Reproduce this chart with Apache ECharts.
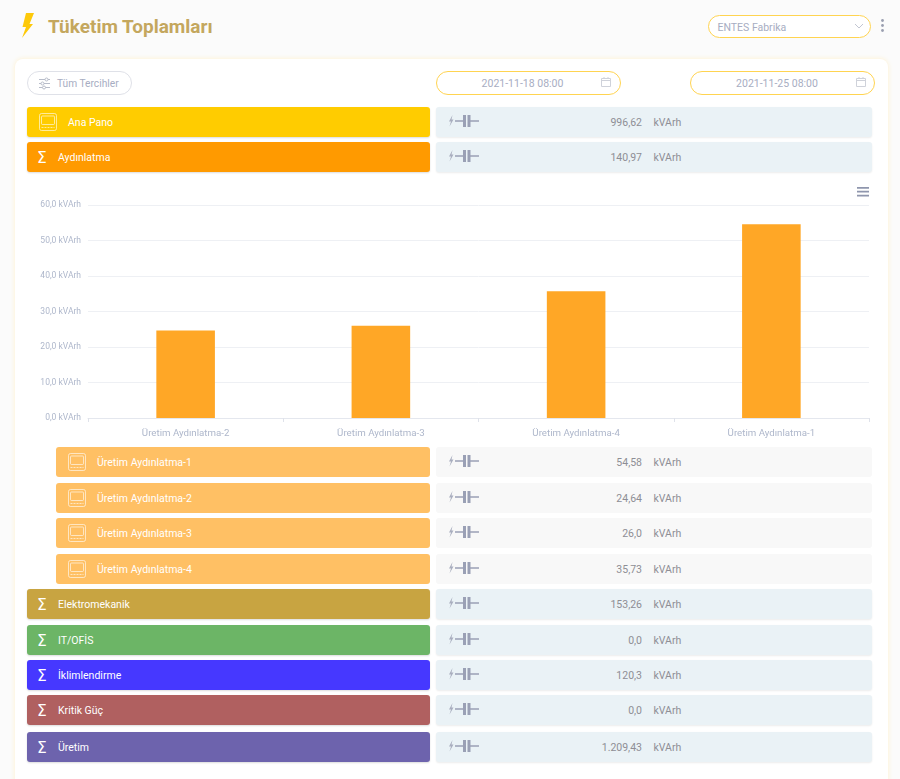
<!DOCTYPE html>
<html lang="tr">
<head>
<meta charset="utf-8">
<title>Tüketim Toplamları</title>
<script src="https://cdn.jsdelivr.net/npm/echarts@6/dist/echarts.min.js"></script>
<style>
html,body{margin:0;padding:0;width:900px;height:779px;overflow:hidden;background:#fbfbfb;font-family:Roboto,sans-serif}
.abs{position:absolute;box-sizing:border-box}
#title{left:48px;top:15px;font-size:19px;font-weight:700;color:#c4a75e;line-height:24px;white-space:nowrap}
#panel{left:15px;top:59px;width:873px;height:730px;background:#fff;border-radius:8px;box-shadow:0 0 5px #fff0cc}
.pill{border-radius:12px;font-size:10.5px;color:#a7adc2;line-height:22px;background:#fff;white-space:nowrap}
.yl{border:1.5px solid #ffd451}
.lab{border-radius:3px;color:#fff;font-size:10.5px;box-shadow:0 1px 2px rgba(0,0,0,.14);height:30px;line-height:31px;white-space:nowrap}
.box{border-radius:3px;left:435.5px;width:436.5px;height:30px;box-shadow:0 1px 2px rgba(0,0,0,.08)}
.val{width:140px;left:502px;text-align:right;font-size:10.5px;color:#8e8e95;line-height:31px;height:30px}
.unit{left:653.5px;font-size:10.5px;color:#8e8e95;line-height:31px;height:30px}
#chart{left:15px;top:180px;width:873px;height:265px}
svg{display:block}
</style>
</head>
<body>
<svg class="abs" style="left:20px;top:12px" width="16" height="27" viewBox="0 0 16 27"><path d="M6 1H14L9.5 12H13L2 26L6 15H2.5Z" fill="#fdc90a"/></svg>
<div class="abs" id="title">Tüketim Toplamları</div>
<div class="abs pill yl" style="left:707.5px;top:15px;width:163px;height:23px;padding-left:9px;line-height:23px">ENTES Fabrika</div>
<svg class="abs" style="left:854px;top:23px" width="10" height="7"><path d="M1 1L5 5L9 1" fill="none" stroke="#c2c6d2"/></svg>
<svg class="abs" style="left:880px;top:18px" width="5" height="15"><circle cx="2.5" cy="2.5" r="1.4" fill="#9a9fb0"/><circle cx="2.5" cy="7.5" r="1.4" fill="#9a9fb0"/><circle cx="2.5" cy="12.5" r="1.4" fill="#9a9fb0"/></svg>
<div class="abs" id="panel"></div>
<div class="abs pill" style="left:27px;top:71px;width:104.5px;height:24px;border:1px solid #dfe1e8;padding-left:29px;line-height:23px;font-size:10.2px">Tüm Tercihler</div>
<svg class="abs" style="left:39px;top:77px" width="12" height="13"><path d="M0 2.5H11M0 6.5H11M0 10.5H11" stroke="#b8bdca"/><circle cx="7.5" cy="2.5" r="1.5" fill="#fff" stroke="#b8bdca"/><circle cx="3.5" cy="6.5" r="1.5" fill="#fff" stroke="#b8bdca"/><circle cx="5" cy="10.5" r="1.5" fill="#fff" stroke="#b8bdca"/></svg>
<div class="abs pill yl" style="left:435.5px;top:71px;width:185px;height:24px;text-align:center;padding-right:11px;line-height:23px">2021-11-18 08:00</div>
<div class="abs pill yl" style="left:690px;top:71px;width:185px;height:24px;text-align:center;padding-right:11px;line-height:23px">2021-11-25 08:00</div>
<svg class="abs" style="left:601px;top:77px" width="10" height="10"><path d="M.5 1.5H9.5V9.5H.5ZM.5 3.5H9.5M3 0V2M7 0V2" fill="none" stroke="#cfd2da"/></svg>
<svg class="abs" style="left:856px;top:77px" width="10" height="10"><path d="M.5 1.5H9.5V9.5H.5ZM.5 3.5H9.5M3 0V2M7 0V2" fill="none" stroke="#cfd2da"/></svg>
<div class="abs" id="chart"></div>
<div id="rows"></div>
<script>
var rowNames = ['Ana Pano','Aydınlatma','Üretim Aydınlatma-1','Üretim Aydınlatma-2','Üretim Aydınlatma-3','Üretim Aydınlatma-4','Elektromekanik','IT/OFİS','İklimlendirme','Kritik Güç','Üretim'];
var rowValues = [996.62,140.97,54.58,24.64,26.0,35.73,153.26,0.0,120.3,0.0,1209.43];
var rowColors = ['#ffcc00','#ff9a00','#ffc064','#ffc064','#ffc064','#ffc064','#c8a441','#6cb566','#4638ff','#b06060','#6d63ad'];
var rowTops = [107,142,447,483,518,554,589.4,625,660.4,695.4,732];
var rowKinds = ['panel','sum','sub','sub','sub','sub','sum','sum','sum','sum','sum'];
var unitLabel = 'kVArh';

var chartCategories = ['Üretim Aydınlatma-2','Üretim Aydınlatma-3','Üretim Aydınlatma-4','Üretim Aydınlatma-1'];
var chartValues = [24.64,26.0,35.73,54.58];

function fmt(v){
  var s = (Math.round(v*100)/100).toString().split('.');
  var i = s[0].replace(/\B(?=(\d{3})+$)/g,'.');
  return i + ',' + (s[1] || '0');
}
var meterIcon = '<svg width="18" height="18" viewBox="0 0 18 18"><rect x=".5" y=".5" width="17" height="17" rx="2" fill="none" stroke="rgba(255,255,255,.6)"/><rect x="2.5" y="3" width="13" height="8.5" rx="1" fill="none" stroke="rgba(255,255,255,.6)"/><path d="M2.5 14.5H15.5" stroke="rgba(255,255,255,.6)" stroke-dasharray="2 1"/></svg>';
var capIcon = '<svg width="31" height="12" viewBox="0 0 31 12"><path d="M4.5 0L1 6.5H3L1.5 11.5L5.5 4.5H3.5Z" fill="#a9aebf"/><path d="M7 6H15M22 6H31" stroke="#9aa0b5" stroke-width="1.3"/><rect x="15" y="0" width="3" height="12" fill="#9aa0b5"/><rect x="19.5" y="0" width="3" height="12" fill="#9aa0b5"/></svg>';
var h = '';
rowNames.forEach(function(name,i){
  var t = rowTops[i], k = rowKinds[i];
  var left = k === 'sub' ? 56 : 27;
  var textX = k === 'sub' ? 97 : (k === 'panel' ? 68 : 58);
  var shadow = k === 'sub' ? 'box-shadow:none;' : '';
  h += '<div class="abs lab" style="left:'+left+'px;top:'+t+'px;width:'+(430-left)+'px;background:'+rowColors[i]+';'+shadow+'padding-left:'+(textX-left)+'px">'+name+'</div>';
  if(k === 'sum'){
    h += '<div class="abs" style="left:37px;top:'+(t+1.6)+'px;color:#fff;font:15.5px/29px \'DejaVu Sans\',sans-serif;width:12px">Σ</div>';
  } else {
    h += '<div class="abs" style="left:'+(k==='sub'?68:39)+'px;top:'+(t+6)+'px">'+meterIcon+'</div>';
  }
  h += '<div class="abs box" style="top:'+t+'px;background:'+(k==='sub'?'#f8f8f8':'#eaf2f6')+';'+(k==='sub'?'box-shadow:none':'')+'"></div>';
  h += '<div class="abs" style="left:448px;top:'+(t+8)+'px">'+capIcon+'</div>';
  h += '<div class="abs val" style="top:'+t+'px">'+fmt(rowValues[i])+'</div>';
  h += '<div class="abs unit" style="top:'+t+'px">'+unitLabel+'</div>';
});
document.getElementById('rows').innerHTML = h;

var chart = echarts.init(document.getElementById('chart'));
chart.setOption({
  animation:false,
  textStyle:{fontFamily:'Roboto'},
  toolbox:{right:4,top:-8,itemSize:12,feature:{myMenu:{show:true,title:'',icon:'path://M0 0H14V2H0ZM0 4.5H14V6.5H0ZM0 9H14V11H0Z',iconStyle:{color:'#8f96ad',borderWidth:0},onclick:function(){}}}},
  grid:{left:73,right:19,top:25,height:213},
  xAxis:{type:'category',data:chartCategories,
    axisLine:{lineStyle:{color:'#e4e7ee',width:1}},
    axisTick:{show:true,length:4,alignWithLabel:false,lineStyle:{color:'#dfe2ea'}},
    axisLabel:{color:'#aeb7cb',fontSize:9.7,margin:11}},
  yAxis:{type:'value',min:0,max:60,interval:10,
    axisLine:{show:false},axisTick:{show:false},
    splitLine:{lineStyle:{color:'#eef0f4',width:1}},
    axisLabel:{color:'#aeb7cb',fontSize:8.5,margin:7,padding:[0,0,1,0],formatter:function(v){return v.toFixed(1).replace('.',',')+' '+unitLabel;}}},
  series:[{type:'bar',data:chartValues,barWidth:'30%',itemStyle:{color:'#ffa726'}}]
});
</script>
</body>
</html>
